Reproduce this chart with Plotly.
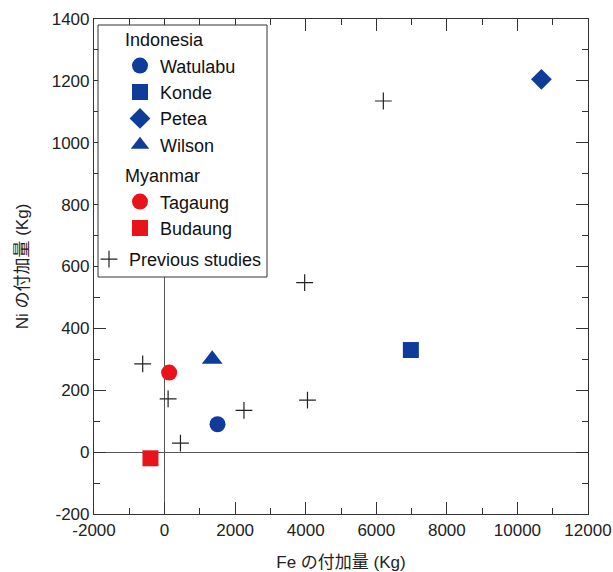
import plotly.graph_objects as go

BLUE = "#0f3c98"
RED = "#e8141c"

# Indonesia
watulabu_fe = [1500]; watulabu_ni = [90]
konde_fe = [6980]; konde_ni = [330]
petea_fe = [10680]; petea_ni = [1205]
wilson_fe = [1350]; wilson_ni = [300]
# Myanmar
tagaung_fe = [130]; tagaung_ni = [257]
budaung_fe = [-400]; budaung_ni = [-20]
# Previous studies
prev_fe = [-620, 100, 450, 2250, 4050, 3970, 6200]
prev_ni = [285, 172, 29, 135, 168, 548, 1135]

x_ticks = [-2000, 0, 2000, 4000, 6000, 8000, 10000, 12000]
y_ticks = [-200, 0, 200, 400, 600, 800, 1000, 1200, 1400]

FONT = "Arial, Liberation Sans, Noto Sans CJK JP, sans-serif"
W, H = 613, 572
ML, MR, MT, MB = 94, 25, 19, 58
PW, PH = W - ML - MR, H - MT - MB

def px_x(p):
    return (p - ML) / PW

def px_y(p):
    return 1 - (p - MT) / PH

fig = go.Figure()

def add(name, xs, ys, symbol, color, size, group, title=None):
    kw = {}
    if title:
        kw["legendgrouptitle"] = dict(text=title, font=dict(size=18, color="#111", family=FONT))
    fig.add_trace(go.Scatter(
        x=xs, y=ys, mode="markers", name=name,
        marker=dict(symbol=symbol, color=color, size=size, line=dict(width=0)),
        legendgroup=group, legend="legend", **kw))

add("Watulabu", watulabu_fe, watulabu_ni, "circle", BLUE, 16, "ind", "Indonesia")
add("Konde", konde_fe, konde_ni, "square", BLUE, 16, "ind")
add("Petea", petea_fe, petea_ni, "diamond", BLUE, 16, "ind")
add("Wilson", wilson_fe, wilson_ni, "triangle-up", BLUE, 18, "ind")
add("Tagaung", tagaung_fe, tagaung_ni, "circle", RED, 16, "mya", "Myanmar")
add("Budaung", budaung_fe, budaung_ni, "square", RED, 16, "mya")
fig.add_trace(go.Scatter(
    x=prev_fe, y=prev_ni, mode="markers", name="Previous studies",
    marker=dict(symbol="cross-thin-open", color="#222", size=12,
                line=dict(width=1.2, color="#222")),
    legend="legend2"))

axis_common = dict(
    showline=True, linecolor="#333", linewidth=1.2, mirror="allticks",
    ticks="inside", ticklen=12, tickwidth=1.2, tickcolor="#333",
    showgrid=False, zeroline=True, zerolinecolor="#555", zerolinewidth=1,
    tickfont=dict(size=17, color="#222", family=FONT),
    automargin=False,
)

fig.update_xaxes(range=[-2000, 12000],
                 tickmode="array", tickvals=x_ticks, ticktext=[str(v) for v in x_ticks],
                 minor=dict(ticks="inside", ticklen=6, tickwidth=1.2, tickcolor="#333",
                            dtick=1000, tick0=0, showgrid=False),
                 title=dict(text="Fe の付加量 (Kg)", font=dict(size=17, color="#222", family=FONT), standoff=21),
                 **axis_common)
fig.update_yaxes(range=[-200, 1400],
                 tickmode="array", tickvals=y_ticks, ticktext=[str(v) for v in y_ticks],
                 minor=dict(ticks="inside", ticklen=6, tickwidth=1.2, tickcolor="#333",
                            dtick=100, tick0=0, showgrid=False),
                 title=dict(text="Ni の付加量 (Kg)", font=dict(size=17, color="#222", family=FONT), standoff=18),
                 **axis_common)

# legend frame
fig.add_shape(type="rect", xref="paper", yref="paper",
              x0=px_x(98), x1=px_x(267), y0=px_y(277), y1=px_y(25),
              line=dict(color="#333", width=1), fillcolor="white", layer="above")

fig.update_layout(
    width=W, height=H,
    margin=dict(l=ML, r=MR, t=MT, b=MB),
    paper_bgcolor="white", plot_bgcolor="white",
    font=dict(family=FONT, size=17, color="#111"),
    showlegend=True,
    legend=dict(x=px_x(120), y=px_y(21), xanchor="left", yanchor="top",
                bgcolor="rgba(0,0,0,0)", borderwidth=0,
                font=dict(size=18, family=FONT, color="#111"),
                tracegroupgap=4, itemsizing="trace"),
    legend2=dict(x=px_x(89), y=px_y(241), xanchor="left", yanchor="top",
                 bgcolor="rgba(0,0,0,0)", borderwidth=0,
                 font=dict(size=18, family=FONT, color="#111"),
                 itemsizing="trace"),
)

fig.write_html("out.html", config={"displayModeBar": False},
               post_script="document.body.style.margin='0';document.body.style.overflow='hidden';")
